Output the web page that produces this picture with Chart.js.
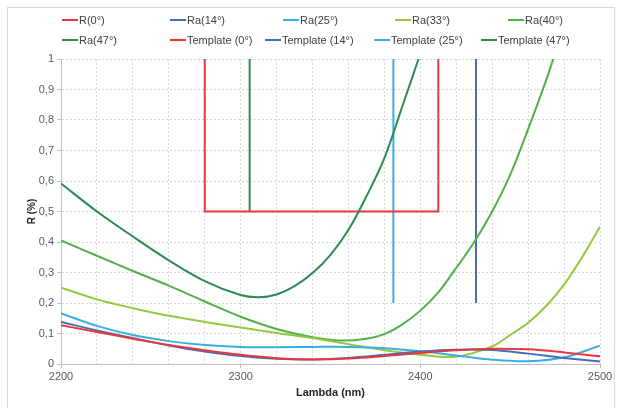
<!DOCTYPE html>
<html>
<head>
<meta charset="utf-8">
<script src="https://cdn.jsdelivr.net/npm/chart.js@4.4.1/dist/chart.umd.min.js"></script>
<style>
  html, body { margin: 0; padding: 0; background: #fff; }
  #wrap { position: relative; width: 618px; height: 408px; overflow: hidden; }
  #frame { position: absolute; left: 7px; top: 7px; width: 606px; height: 420px; border: 1px solid #d9d9d9; }
  #chart { position: absolute; left: 0; top: 0; }
  .lg { position: absolute; font: 11px "Liberation Sans", Arial, sans-serif; color: #404040; white-space: nowrap; line-height: 13px; }
  .lg i { display: inline-block; width: 16px; height: 2px; vertical-align: middle; margin-right: 1px; position: relative; top: -1px; }
</style>
</head>
<body>
<div id="wrap">
  <div id="frame"></div>
  <canvas id="chart" width="618" height="408"></canvas>
  <div id="legend"></div>
</div>
<script>
// --------------------
// Data
// --------------------
const stepLambda = [2200, 2220, 2240, 2260, 2280, 2300, 2320, 2340, 2360, 2380, 2400, 2420, 2440, 2460, 2480, 2500];

const r0Values  = [0.127, 0.105, 0.083, 0.062, 0.045, 0.030, 0.019, 0.015, 0.018, 0.026, 0.036, 0.045, 0.050, 0.048, 0.038, 0.025];
const ra14Values = [0.138, 0.110, 0.085, 0.061, 0.041, 0.026, 0.017, 0.015, 0.020, 0.030, 0.041, 0.047, 0.046, 0.034, 0.020, 0.008];
const ra25Values = [0.166, 0.125, 0.095, 0.075, 0.062, 0.056, 0.055, 0.056, 0.056, 0.052, 0.042, 0.028, 0.014, 0.009, 0.022, 0.060];

const ra33Lambda = [2200, 2220, 2240, 2260, 2280, 2300, 2320, 2340, 2360, 2380, 2400, 2420, 2440, 2450, 2460, 2470, 2480, 2490, 2500];
const ra33Values = [0.250, 0.212, 0.183, 0.158, 0.138, 0.120, 0.102, 0.085, 0.065, 0.045, 0.030, 0.024, 0.058, 0.095, 0.135, 0.190, 0.260, 0.350, 0.450];

const ra40Lambda = [2200, 2220, 2240, 2260, 2280, 2300, 2320, 2340, 2355, 2370, 2380, 2390, 2400, 2410, 2420, 2430, 2440, 2450, 2460, 2470, 2474];
const ra40Values = [0.405, 0.355, 0.305, 0.257, 0.205, 0.155, 0.115, 0.088, 0.077, 0.083, 0.098, 0.130, 0.175, 0.235, 0.315, 0.400, 0.500, 0.620, 0.770, 0.930, 1.000];

const ra47Lambda = [2200, 2220, 2240, 2260, 2280, 2300, 2310, 2320, 2330, 2340, 2350, 2360, 2370, 2380, 2390, 2399];
const ra47Values = [0.592, 0.500, 0.418, 0.340, 0.272, 0.226, 0.219, 0.228, 0.255, 0.298, 0.358, 0.440, 0.550, 0.675, 0.845, 1.000];

// Templates (step masks)
const tpl0Lambda = [2280, 2280, 2410, 2410];
const tpl0Values = [1, 0.5, 0.5, 1];
const tpl14Lambda = [2431, 2431];
const tpl14Values = [1, 0.2];
const tpl25Lambda = [2385, 2385];
const tpl25Values = [1, 0.2];
const tpl47Lambda = [2305, 2305];
const tpl47Values = [1, 0.5];

const colors = {
  red: '#e8383d',
  blue: '#4a6eb5',
  lightBlue: '#3aaee2',
  yellowGreen: '#93c83f',
  green: '#52b04a',
  darkGreen: '#2b8b50'
};

function pts(xs, ys) {
  return xs.map((x, i) => ({ x: x, y: ys[i] }));
}

function curve(label, xs, ys, color) {
  return { label, data: pts(xs, ys), borderColor: color, backgroundColor: color,
           borderWidth: 2, pointRadius: 0, tension: 0.35, fill: false };
}

function template(label, xs, ys, color) {
  return { label, data: pts(xs, ys), borderColor: color, backgroundColor: color,
           borderWidth: 2, pointRadius: 0, tension: 0, fill: false };
}

const datasets = [
  curve("R(0°)", stepLambda, r0Values, colors.red),
  curve("Ra(14°)", stepLambda, ra14Values, colors.blue),
  curve("Ra(25°)", stepLambda, ra25Values, colors.lightBlue),
  curve("Ra(33°)", ra33Lambda, ra33Values, colors.yellowGreen),
  curve("Ra(40°)", ra40Lambda, ra40Values, colors.green),
  curve("Ra(47°)", ra47Lambda, ra47Values, colors.darkGreen),
  template("Template (0°)", tpl0Lambda, tpl0Values, colors.red),
  template("Template (14°)", tpl14Lambda, tpl14Values, colors.blue),
  template("Template (25°)", tpl25Lambda, tpl25Values, colors.lightBlue),
  template("Template (47°)", tpl47Lambda, tpl47Values, colors.darkGreen)
];

// legend slots (left, top) for each dataset, Excel-like two rows
const legendPos = [
  [62, 14], [170, 14], [283, 14], [395, 14], [508, 14],
  [62, 34], [170, 34], [265, 34], [374, 34], [481, 34]
];

const FONT = '"Liberation Sans", Arial, sans-serif';
const AXIS_GRAY = '#bfbfbf';

new Chart(document.getElementById('chart'), {
  type: 'line',
  data: { datasets },
  options: {
    responsive: false,
    animation: false,
    layout: { padding: { left: 26, right: 18, top: 59, bottom: 8 } },
    plugins: { legend: { display: false }, tooltip: { enabled: false } },
    scales: {
      x: {
        type: 'linear',
        min: 2200, max: 2500,
        afterFit: (s) => { s.height = 36; },
        ticks: {
          stepSize: 20, autoSkip: false, maxRotation: 0, padding: 2,
          color: '#595959', font: { family: FONT, size: 11 },
          callback: (v) => (v % 100 === 0 ? String(v) : '')
        },
        grid: {
          color: '#d9d9d9', tickLength: 4,
          tickColor: (ctx) => (ctx.tick && ctx.tick.value % 100 === 0 ? AXIS_GRAY : 'rgba(0,0,0,0)')
        },
        border: { color: AXIS_GRAY, dash: [2, 2] },
        title: { display: true, text: 'Lambda (nm)', color: '#262626', padding: 0,
                 font: { family: FONT, size: 11, weight: 'bold' } }
      },
      y: {
        min: 0, max: 1,
        afterFit: (s) => { s.width = 35; },
        ticks: {
          stepSize: 0.1, padding: 3,
          color: '#595959', font: { family: FONT, size: 11 },
          callback: (v) => String(Math.round(v * 10) / 10).replace('.', ',')
        },
        grid: { color: '#d9d9d9', tickLength: 4, tickColor: AXIS_GRAY },
        border: { color: AXIS_GRAY, dash: [2, 2] },
        title: { display: true, text: 'R (%)', color: '#262626', padding: 0,
                 font: { family: FONT, size: 10, weight: 'bold' } }
      }
    }
  }
});

// --------------------
// Legend
// --------------------
const legendEl = document.getElementById('legend');
datasets.forEach((ds, i) => {
  const item = document.createElement('div');
  item.className = 'lg';
  item.style.left = legendPos[i][0] + 'px';
  item.style.top = legendPos[i][1] + 'px';
  const sw = document.createElement('i');
  sw.style.background = ds.borderColor;
  item.appendChild(sw);
  item.appendChild(document.createTextNode(ds.label));
  legendEl.appendChild(item);
});
</script>
</body>
</html>
